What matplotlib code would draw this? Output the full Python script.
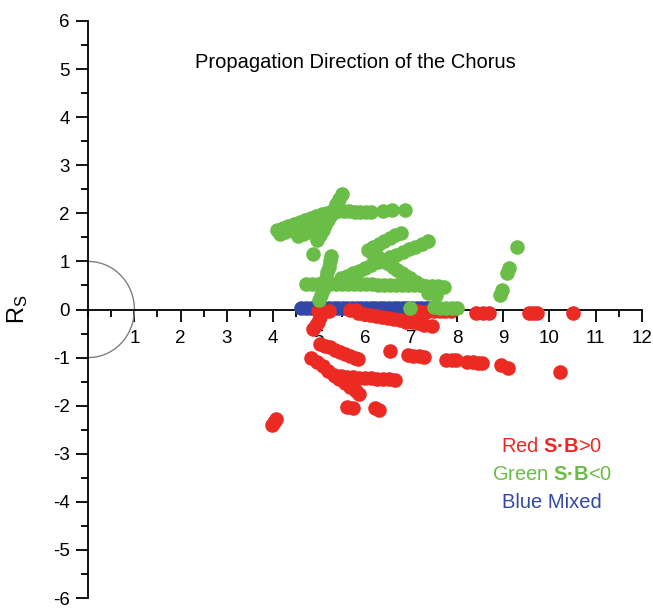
import numpy as np
import matplotlib

matplotlib.use("Agg")
import matplotlib.pyplot as plt
from matplotlib.ticker import MultipleLocator, FixedLocator

plt.rcParams['font.family'] = ['Liberation Sans', 'DejaVu Sans']
plt.rcParams['mathtext.fontset'] = 'custom'
plt.rcParams['mathtext.rm'] = 'Liberation Sans'
plt.rcParams['mathtext.it'] = 'Liberation Sans:italic'
plt.rcParams['mathtext.bf'] = 'Liberation Sans:bold'

# chorus events, (distance, R_S) pairs per propagation class
blue_x = [4.62, 4.72, 4.82, 4.92, 5.02, 5.12, 5.22, 5.32, 5.42, 5.52, 5.62, 5.72,
          5.82, 5.92, 6.02, 6.12, 6.22, 6.32, 6.42, 6.52, 6.62, 6.72, 6.82, 6.92,
          7.02, 7.12, 7.22, 7.32, 7.40]
blue_y = [0.03] * len(blue_x)

red_x = [
    # along the axis
    4.98, 5.10, 5.22, 5.68, 5.80, 7.00, 7.12, 7.24, 7.32, 7.50, 7.62, 7.74, 7.86,
    8.41, 8.55, 8.69, 9.56, 9.65, 9.73, 10.51,
    # short drop near 5
    5.08, 5.03, 4.98, 4.93, 4.88,
    # upper diagonal
    5.02, 5.13, 5.24, 5.35, 5.46, 5.57, 5.68, 5.78, 5.85,
    # steep diagonal
    4.84, 4.96, 5.08, 5.20, 5.32, 5.44, 5.56, 5.68, 5.80, 5.88,
    # flat branch
    5.35, 5.48, 5.61, 5.74, 5.87, 6.00, 6.13, 6.26, 6.39, 6.52, 6.65,
    # isolated groups
    5.60, 5.74, 6.22, 6.30, 4.07, 4.03, 3.99,
    # dotted tail
    6.54, 6.93, 7.05, 7.17, 7.28, 7.76, 7.88, 7.98, 8.22, 8.34, 8.46, 8.54,
    8.95, 9.10, 10.23,
    # band just below the axis
    5.85, 5.98, 6.11, 6.24, 6.37, 6.50, 6.63, 6.76, 6.89, 7.02, 7.15, 7.28, 7.45,
]
red_y = [
    -0.03, -0.03, -0.03, -0.02, -0.02, -0.04, -0.04, -0.05, -0.05, -0.04, -0.04, -0.04, -0.04,
    -0.07, -0.07, -0.07, -0.07, -0.07, -0.07, -0.07,
    -0.05, -0.15, -0.25, -0.33, -0.40,
    -0.71, -0.75, -0.79, -0.84, -0.88, -0.92, -0.96, -1.00, -1.03,
    -1.00, -1.09, -1.18, -1.27, -1.36, -1.44, -1.53, -1.62, -1.70, -1.76,
    -1.38, -1.39, -1.40, -1.41, -1.42, -1.42, -1.43, -1.44, -1.44, -1.45, -1.46,
    -2.02, -2.04, -2.04, -2.10, -2.27, -2.33, -2.40,
    -0.86, -0.94, -0.96, -0.97, -0.99, -1.04, -1.05, -1.06, -1.10, -1.10, -1.11, -1.12,
    -1.16, -1.22, -1.31,
    -0.08, -0.10, -0.12, -0.14, -0.16, -0.18, -0.20, -0.22, -0.25, -0.27, -0.29, -0.32, -0.35,
]

green_x = [
    # long rising streak and its lower twin
    4.10, 4.22, 4.34, 4.46, 4.58, 4.70, 4.82, 4.94, 5.06, 5.18,
    4.15, 4.27, 4.39, 4.51, 4.63, 4.75, 4.87, 4.99,
    4.55, 4.66, 4.77, 4.88, 4.99, 5.10,
    # flat streak near 2
    5.30, 5.42, 5.54, 5.66, 5.78, 5.90, 6.02, 6.12, 6.39, 6.59, 6.87,
    # steep streaks
    5.50, 5.44, 5.38, 5.32, 5.26, 5.20, 5.14, 5.08, 5.02, 4.97, 4.88,
    5.27, 5.24, 5.21, 5.18, 5.15, 5.12, 5.08, 5.04, 5.00,
    # flat streak near 0.5
    4.72, 4.85, 4.98, 5.11, 5.24, 5.37, 5.50, 5.63, 5.76, 5.89, 6.02, 6.15,
    6.28, 6.41, 6.54, 6.67, 6.80, 6.93, 7.06, 7.19, 7.32, 7.45, 7.58, 7.72,
    # long diagonal
    5.47, 5.60, 5.74, 5.87, 6.01, 6.14, 6.28, 6.41, 6.55, 6.68, 6.82, 6.95,
    7.09, 7.23, 7.37,
    # bent streak
    6.78, 6.66, 6.54, 6.42, 6.30, 6.18, 6.07,
    6.16, 6.25, 6.34, 6.43, 6.52, 6.61, 6.70, 6.80, 6.89, 6.98, 7.10, 7.22, 7.37, 7.55,
    # far group near 9
    9.29, 9.13, 9.08, 8.98, 8.92,
    # on the axis
    6.98, 7.50, 7.62, 7.75, 7.88, 8.00,
]
green_y = [
    1.66, 1.70, 1.74, 1.78, 1.82, 1.86, 1.90, 1.94, 1.98, 2.01,
    1.58, 1.62, 1.66, 1.70, 1.74, 1.78, 1.82, 1.86,
    1.52, 1.56, 1.61, 1.66, 1.70, 1.73,
    2.04, 2.04, 2.04, 2.04, 2.03, 2.03, 2.02, 2.02, 2.05, 2.06, 2.06,
    2.40, 2.30, 2.19, 2.08, 1.97, 1.87, 1.76, 1.65, 1.54, 1.44, 1.16,
    1.12, 1.01, 0.89, 0.77, 0.65, 0.53, 0.41, 0.30, 0.20,
    0.53, 0.53, 0.53, 0.53, 0.53, 0.53, 0.53, 0.52, 0.52, 0.52, 0.52, 0.52,
    0.51, 0.51, 0.51, 0.51, 0.50, 0.50, 0.50, 0.50, 0.49, 0.49, 0.48, 0.47,
    0.65, 0.70, 0.76, 0.81, 0.87, 0.92, 0.98, 1.03, 1.09, 1.14, 1.20, 1.25,
    1.31, 1.36, 1.42,
    1.60, 1.54, 1.48, 1.42, 1.36, 1.29, 1.23,
    1.17, 1.11, 1.05, 0.99, 0.94, 0.88, 0.82, 0.76, 0.70, 0.65, 0.58, 0.50, 0.35, 0.30,
    1.31, 0.87, 0.76, 0.40, 0.30,
    0.04, 0.05, 0.04, 0.04, 0.04, 0.04,
]

RED = '#ec2a24'
GREEN = '#6abd46'
BLUE = '#3248a8'
MS = 110

fig = plt.figure(figsize=(6.53, 6.08), dpi=100)
ax = fig.add_axes([0.1352, 0.0164, 0.8475, 0.9491])

ax.scatter(blue_x, blue_y, s=MS, color=BLUE, linewidths=0, zorder=3)
ax.scatter(red_x, red_y, s=MS, color=RED, linewidths=0, zorder=4)
ax.scatter(green_x, green_y, s=MS, color=GREEN, linewidths=0, zorder=5)

# unit half circle around the origin
th = np.linspace(-np.pi / 2, np.pi / 2, 200)
ax.plot(np.cos(th), np.sin(th), color='#808080', lw=1.0, zorder=2)

ax.set_xlim(0, 12)
ax.set_ylim(-6, 6)
ax.spines['left'].set_position(('data', 0))
ax.spines['bottom'].set_position(('data', 0))
ax.spines['top'].set_visible(False)
ax.spines['right'].set_visible(False)
for sp in ('left', 'bottom'):
    ax.spines[sp].set_linewidth(1.3)
    ax.spines[sp].set_zorder(2.5)

ax.xaxis.set_major_locator(FixedLocator(np.arange(1, 13)))
ax.xaxis.set_minor_locator(MultipleLocator(0.5))
ax.yaxis.set_major_locator(MultipleLocator(1))
ax.yaxis.set_minor_locator(MultipleLocator(0.5))
ax.tick_params(which='major', direction='out', length=8.5, width=1.3, labelsize=13.5)
ax.tick_params(which='minor', direction='out', length=5, width=1.3)
ax.tick_params(axis='x', which='major', pad=6)
ax.tick_params(axis='y', which='major', pad=5)
ax.set_yticks(np.arange(-6, 7))
ax.set_yticklabels([str(v) for v in range(-6, 7)])

ax.set_ylabel(r'R$_\mathrm{S}$', fontsize=17)
ax.yaxis.set_label_coords(-0.105, 0.5)

fig.text(355 / 653, 1 - 62 / 608, 'Propagation Direction of the Chorus',
         ha='center', va='center', fontsize=14.5)

fig.text(552 / 653, 1 - 447 / 608, r'Red $\mathbf{S·B}$>0', color=RED,
         ha='center', va='center', fontsize=14.5)
fig.text(552 / 653, 1 - 475 / 608, r'Green $\mathbf{S·B}$<0', color=GREEN,
         ha='center', va='center', fontsize=14.5)
fig.text(552 / 653, 1 - 502 / 608, 'Blue Mixed', color=BLUE,
         ha='center', va='center', fontsize=14.5)

fig.savefig('out.png', dpi=100)
